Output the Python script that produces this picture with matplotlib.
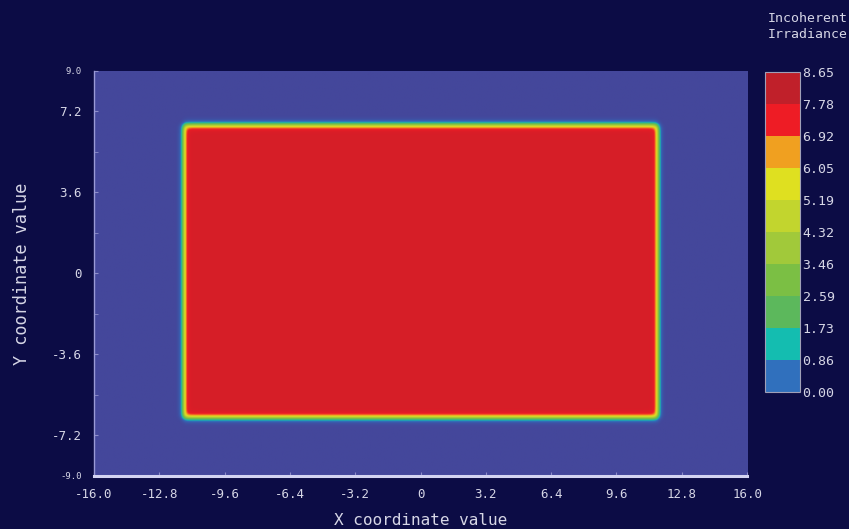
import numpy as np
import matplotlib
matplotlib.use('Agg')
import matplotlib.pyplot as plt
from matplotlib.colors import ListedColormap, BoundaryNorm, LinearSegmentedColormap

# colour levels of the legend
levels = [0.00, 0.86, 1.73, 2.59, 3.46, 4.32, 5.19, 6.05, 6.92, 7.78, 8.65]
level_colors = ['#3070bd', '#14bdb0', '#5cb85c', '#7bbf44', '#a1c93a',
                '#c2d52e', '#dfe020', '#f0a020', '#ee1c25', '#c0202a']
background_color = '#44479b'

# illuminated rectangle
x_left, x_right = -11.62, 11.6
y_bottom, y_top = -6.42, 6.57
plateau = 8.0
edge_width = 0.15

x_ticks = [-16.0, -12.8, -9.6, -6.4, -3.2, 0, 3.2, 6.4, 9.6, 12.8, 16.0]
y_ticks = [-9.0, -7.2, -3.6, 0, 3.6, 7.2, 9.0]

bg = '#0c0c45'
txt = '#d6d6e6'
mono = 'DejaVu Sans Mono'

# irradiance map
xs = np.linspace(-16, 16, 900)
ys = np.linspace(-9, 9, 520)
X, Y = np.meshgrid(xs, ys)
sx = 0.5 * (np.tanh((X - x_left) / edge_width) - np.tanh((X - x_right) / edge_width))
sy = 0.5 * (np.tanh((Y - y_bottom) / edge_width) - np.tanh((Y - y_top) / edge_width))
Z = plateau * sx * sy

anchors = [0.0, 0.86, 1.3, 2.16, 3.0, 3.9, 4.75, 5.6, 6.5, 7.35, 8.65]
anchor_colors = [background_color] + level_colors
img_cmap = LinearSegmentedColormap.from_list(
    'irr', [(a / 8.65, c) for a, c in zip(anchors, anchor_colors)])

fig = plt.figure(figsize=(8.49, 5.29), dpi=100, facecolor=bg)
ax = fig.add_axes([0.1107, 0.1002, 0.7692, 0.7656])
ax.set_facecolor(background_color)
ax.imshow(Z, extent=[-16, 16, -9, 9], origin='lower', cmap=img_cmap,
          vmin=0, vmax=8.65, aspect='auto', interpolation='bilinear')
ax.set_xlim(-16, 16)
ax.set_ylim(-9, 9)

ax.set_xticks(x_ticks)
ax.set_xticklabels(['0' if v == 0 else f'{v:.1f}' for v in x_ticks])
ax.set_yticks(y_ticks)
ax.set_yticklabels(['0' if v == 0 else f'{v:.1f}' for v in y_ticks])
ax.set_yticks([-5.4, -1.8, 1.8, 5.4], minor=True)
ax.tick_params(axis='both', colors='#8c8cc8', labelcolor=txt, direction='in',
               length=3, width=0.8, labelsize=9)
ax.tick_params(axis='y', which='minor', colors='#8c8cc8', direction='in', length=3)
ax.tick_params(axis='x', pad=9)
ax.tick_params(axis='y', pad=9)
for lab in ax.get_xticklabels() + ax.get_yticklabels():
    lab.set_family(mono)
for i in (0, -1):
    ax.get_yticklabels()[i].set_fontsize(6.5)

for side in ('top', 'right'):
    ax.spines[side].set_visible(False)
ax.spines['left'].set_color('#9a9ad6')
ax.spines['left'].set_linewidth(1.0)
ax.spines['bottom'].set_color('#d4d4f2')
ax.spines['bottom'].set_linewidth(2.2)

ax.set_xlabel('X coordinate value', family=mono, color=txt, fontsize=11.5, labelpad=8)
ax.set_ylabel('Y coordinate value', family=mono, color=txt, fontsize=12.2, labelpad=15)

# colour legend
cax = fig.add_axes([0.901, 0.259, 0.041, 0.605])
cmap = ListedColormap(level_colors)
norm = BoundaryNorm(levels, cmap.N)
sm = plt.cm.ScalarMappable(cmap=cmap, norm=norm)
cb = fig.colorbar(sm, cax=cax, ticks=levels)
cb.ax.set_yticklabels([f'{v:.2f}' for v in levels])
cb.ax.tick_params(length=0, pad=2, labelsize=9.5, labelcolor=txt)
for lab in cb.ax.get_yticklabels():
    lab.set_family(mono)
cb.outline.set_edgecolor('#a0a0b8')
cb.outline.set_linewidth(0.8)
fig.text(0.999, 0.978, 'Incoherent\nIrradiance', ha='right', va='top',
         family=mono, color=txt, fontsize=9.5, linespacing=1.35)

fig.savefig('out.png', dpi=100, facecolor=bg)
